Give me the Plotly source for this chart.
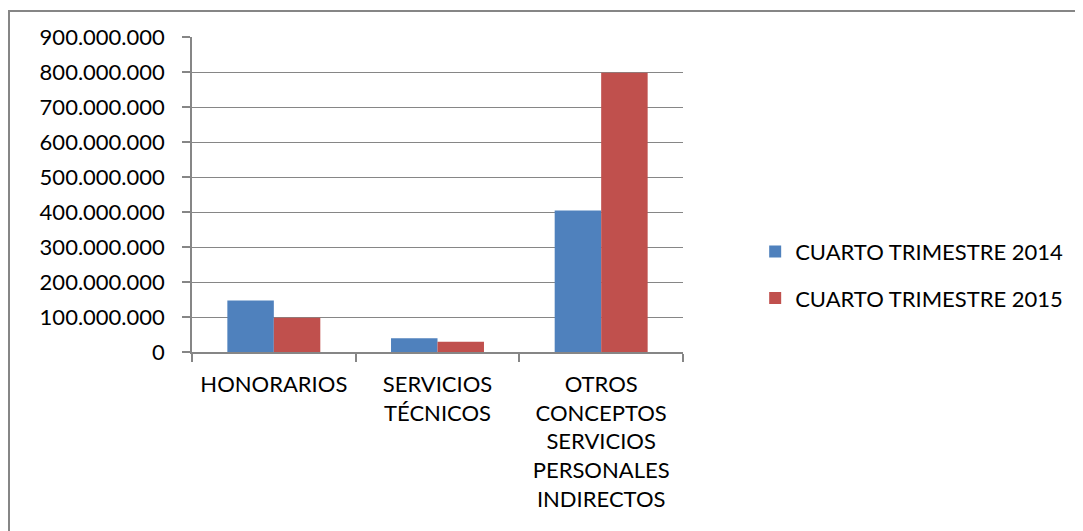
import plotly.graph_objects as go

categories = ["HONORARIOS", "SERVICIOS<br>TÉCNICOS",
              "OTROS<br>CONCEPTOS<br>SERVICIOS<br>PERSONALES<br>INDIRECTOS"]
series_names = ["CUARTO TRIMESTRE 2014", "CUARTO TRIMESTRE 2015"]
values_2014 = [147000000, 39000000, 404000000]
values_2015 = [98000000, 29000000, 798000000]
colors = ["#4F81BD", "#C0504D"]
y_ticks = [0, 100000000, 200000000, 300000000, 400000000, 500000000,
           600000000, 700000000, 800000000, 900000000]

FONT = "Lato"
GRID = "#868686"

fig = go.Figure()
for name, vals, col, grp in zip(series_names, [values_2014, values_2015], colors, ["a", "b"]):
    fig.add_trace(go.Bar(x=categories, y=vals, name=name, marker_color=col,
                         marker_line_width=0, legendgroup=grp))

fig.update_layout(
    width=1083, height=531,
    margin=dict(l=184, r=408, t=29, b=187),
    paper_bgcolor="white", plot_bgcolor="white",
    barmode="group", bargap=0.432, bargroupgap=0,
    separators=",.",
    font=dict(family=FONT, size=22, color="black"),
    legend=dict(x=1.147, y=0.244, xanchor="left", yanchor="middle",
                font=dict(size=22, family=FONT, color="black"),
                tracegroupgap=15, traceorder="grouped"),
    showlegend=True,
)
fig.update_yaxes(range=[0, 900000000], tickvals=y_ticks, tickformat=",d",
                 showgrid=True, gridcolor=GRID, gridwidth=1,
                 showline=True, linecolor=GRID, linewidth=1.5,
                 ticks="outside", ticklen=8, tickcolor=GRID, tickwidth=1.5,
                 ticklabelstandoff=13, zeroline=False,
                 tickfont=dict(size=22, family=FONT, color="black"))
fig.update_xaxes(showline=True, linecolor=GRID, linewidth=1.5,
                 ticks="outside", ticklen=8, tickcolor=GRID, tickwidth=1.5,
                 tickson="boundaries", showgrid=False, ticklabelstandoff=12,
                 tickfont=dict(size=22, family=FONT, color="black"))

fig.add_shape(type="rect", xref="paper", yref="paper",
              x0=-0.3727, x1=2.0, y0=-0.8, y1=1.0825,
              line=dict(color=GRID, width=2), fillcolor="rgba(0,0,0,0)", layer="below")

fig.write_html("out.html")
